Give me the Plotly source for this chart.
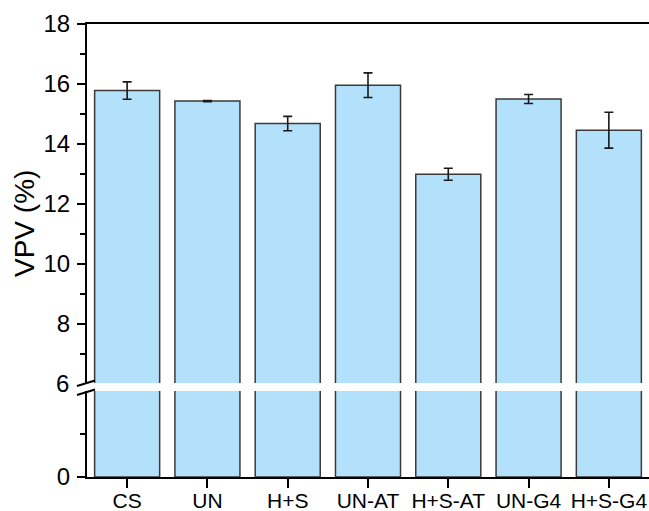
import plotly.graph_objects as go

categories = ["CS", "UN", "H+S", "UN-AT", "H+S-AT", "UN-G4", "H+S-G4"]
vpv_values = [15.78, 15.43, 14.68, 15.96, 12.99, 15.50, 14.46]
vpv_errors = [0.29, 0.02, 0.24, 0.41, 0.20, 0.15, 0.60]

upper_ticks = [6, 8, 10, 12, 14, 16, 18]
lower_ticks = [0]

W, H = 649, 511
ML, MR, MT, MB = 87, 0, 24, 34
PW = W - ML - MR
PH = H - MT - MB


def py(pix):
    return (MT + PH - pix) / PH


def px(pix):
    return (pix - ML) / PW


bar_fill = "#B3E1FB"
bar_line = "#3a3a3a"
font_family = "Arial, Liberation Sans, sans-serif"

fig = go.Figure()

# lower segment bars
fig.add_trace(go.Bar(
    x=categories, y=vpv_values, xaxis="x", yaxis="y",
    marker=dict(color=bar_fill, line=dict(color=bar_line, width=1.5)),
    showlegend=False,
))
# upper segment bars with error bars
fig.add_trace(go.Bar(
    x=categories, y=vpv_values, xaxis="x2", yaxis="y2",
    marker=dict(color=bar_fill, line=dict(color=bar_line, width=1.5)),
    error_y=dict(type="data", array=vpv_errors, visible=True,
                 color="#1a1a1a", thickness=1.6, width=4.5),
    showlegend=False,
))

lower_top = py(391)
upper_bottom = py(383)

axis_common = dict(showline=True, linecolor="black", linewidth=2,
                   showgrid=False, zeroline=False, automargin=False)

fig.update_layout(
    width=W, height=H,
    margin=dict(l=ML, r=MR, t=MT, b=MB, pad=0, autoexpand=False),
    paper_bgcolor="white", plot_bgcolor="white",
    bargap=0.19,
    font=dict(family=font_family, color="black"),
    xaxis=dict(
        **axis_common, domain=[0, 1], anchor="y", range=[-0.5, 6.5],
        ticks="outside", ticklen=9, tickwidth=2, tickcolor="black",
        ticklabelstandoff=-5,
        tickfont=dict(size=21, family=font_family),
    ),
    xaxis2=dict(
        **axis_common, domain=[0, 1], anchor="y2", matches="x", side="top",
        showticklabels=False, ticks="", range=[-0.5, 6.5],
    ),
    yaxis=dict(
        **axis_common, domain=[0, lower_top], anchor="x", range=[0, 6],
        tickmode="array", tickvals=lower_ticks,
        ticks="outside", ticklen=8, tickwidth=2, tickcolor="black",
        ticklabelstandoff=2,
        tickfont=dict(size=24, family=font_family),
        minor=dict(tickmode="array", tickvals=[3], ticks="outside",
                   ticklen=5, tickwidth=2, tickcolor="black"),
    ),
    yaxis2=dict(
        **axis_common, domain=[upper_bottom, 1], anchor="x2", range=[6.03, 18],
        tickmode="array", tickvals=upper_ticks,
        ticks="outside", ticklen=8, tickwidth=2, tickcolor="black",
        ticklabelstandoff=2,
        tickfont=dict(size=24, family=font_family),
        minor=dict(tickmode="array", tickvals=[7, 9, 11, 13, 15, 17],
                   ticks="outside", ticklen=5, tickwidth=2, tickcolor="black"),
    ),
)

# "6" label sits at the break
fig.add_annotation(
    text="6", xref="paper", yref="paper",
    x=px(71), y=py(383), showarrow=False,
    font=dict(size=24, family=font_family, color="black"),
    xanchor="right", yanchor="middle",
)

# axis title placed at the centre of the whole y extent
fig.add_annotation(
    text="VPV (%)", xref="paper", yref="paper",
    x=px(24), y=py(224), showarrow=False, textangle=-90,
    font=dict(size=28, family=font_family, color="black"),
    xanchor="center", yanchor="middle",
)

# break marks on the y axis
for (x0, y0, x1, y1) in [(77, 386, 95, 380.5), (77, 395, 95, 389.5)]:
    fig.add_shape(type="line", xref="paper", yref="paper",
                  x0=px(x0), y0=py(y0), x1=px(x1), y1=py(y1),
                  line=dict(color="black", width=2), layer="above")

fig.write_html("out.html")
